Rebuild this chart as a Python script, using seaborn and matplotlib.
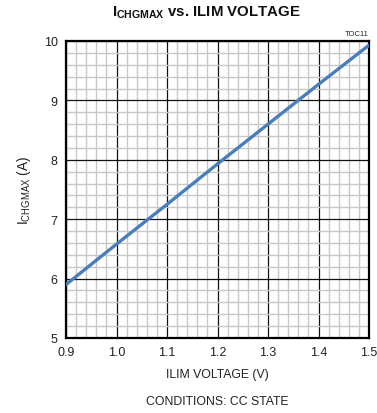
import numpy as np
import pandas as pd
import matplotlib
matplotlib.use("Agg")
import matplotlib.pyplot as plt
from matplotlib.ticker import MultipleLocator
import seaborn as sns

# data
ilim_voltage = [0.9, 1.0, 1.1, 1.2, 1.3, 1.4, 1.5]
ichgmax = [5.90, 6.58, 7.25, 7.93, 8.60, 9.27, 9.93]

x_ticks = [0.9, 1.0, 1.1, 1.2, 1.3, 1.4, 1.5]
y_ticks = [5, 6, 7, 8, 9, 10]

sns.set_style("white")
plt.rcParams['font.family'] = ['Liberation Sans', 'DejaVu Sans']
plt.rcParams['mathtext.fontset'] = 'custom'
plt.rcParams['mathtext.rm'] = 'Liberation Sans'
plt.rcParams['mathtext.bf'] = 'Liberation Sans:bold'
plt.rcParams['mathtext.it'] = 'Liberation Sans:italic'

df = pd.DataFrame({'v': ilim_voltage, 'i': ichgmax})

fig = plt.figure(figsize=(3.77, 4.14), dpi=100)
ax = fig.add_axes([66 / 377, 1 - 339 / 414, 303 / 377, 297 / 414])

sns.lineplot(data=df, x='v', y='i', ax=ax, color='#4a7ebb', linewidth=2.4, zorder=5)

ax.set_xlim(0.9, 1.5)
ax.set_ylim(5, 10)
ax.set_xticks(x_ticks)
ax.set_yticks(y_ticks)
ax.set_xticklabels([f"{v:.1f}" for v in x_ticks])
ax.set_yticklabels([str(v) for v in y_ticks])
ax.xaxis.set_minor_locator(MultipleLocator(0.02))
ax.yaxis.set_minor_locator(MultipleLocator(0.2))

ax.grid(which='minor', color='#c8c8c8', linewidth=1.0, zorder=1)
ax.grid(which='major', color='#111111', linewidth=0.9, zorder=2)
ax.set_axisbelow(True)
ax.tick_params(which='both', length=0, labelsize=9, pad=6, colors='#222222')

for s in ax.spines.values():
    s.set_visible(True)
    s.set_color('black')
    s.set_linewidth(1.6)

ax.set_xlabel('ILIM VOLTAGE (V)', fontsize=8.8, labelpad=7, color='#222222')
ax.set_ylabel(r'$\mathrm{I_{CHGMAX}}$ (A)', fontsize=9.8, labelpad=8, color='#222222')

fig.text(206 / 377, 1 - 13 / 414, r'$\mathbf{I_{CHGMAX}}$ vs. ILIM VOLTAGE',
         ha='center', va='center', fontsize=10.8, fontweight='bold', color='#111111')
fig.text(369 / 377, 1 - 35 / 414, 'TOC11', ha='right', va='center', fontsize=5.5, color='#222222')
fig.text(217 / 377, 1 - 402 / 414, 'CONDITIONS: CC STATE', ha='center', va='center',
         fontsize=8.8, color='#222222')

fig.savefig('out.png', dpi=100, facecolor='white')
